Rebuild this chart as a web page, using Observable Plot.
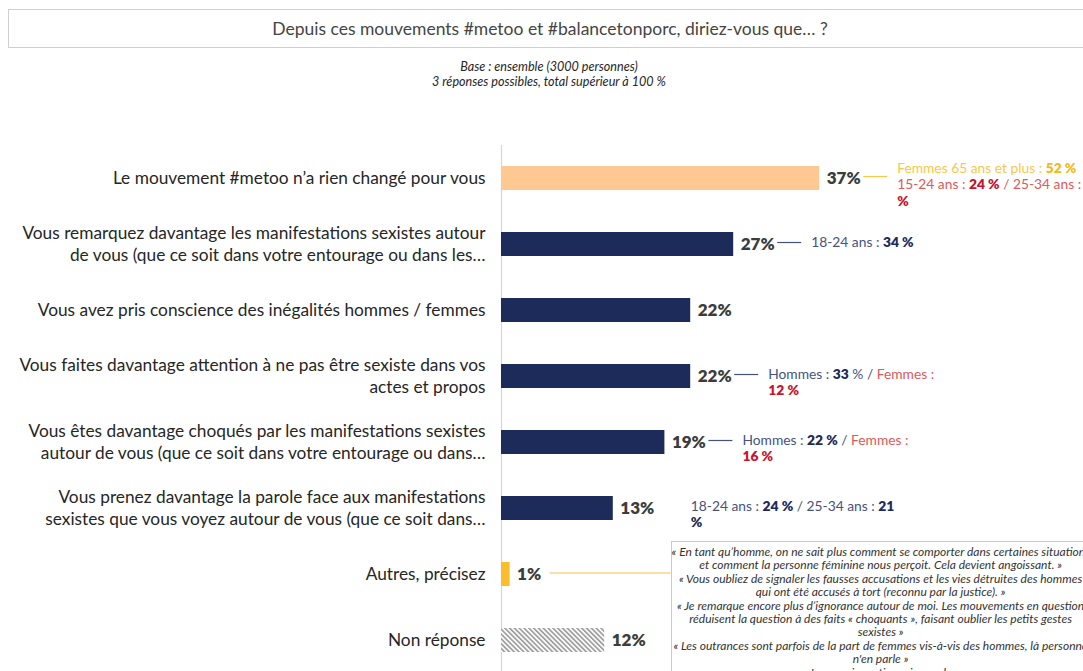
<!DOCTYPE html>
<html>
<head>
<meta charset="utf-8">
<script src="https://cdn.jsdelivr.net/npm/d3@7"></script>
<script src="https://cdn.jsdelivr.net/npm/@observablehq/plot@0.6"></script>
<style>
  html, body { margin: 0; padding: 0; background: #fff; }
  body { width: 1083px; height: 671px; overflow: hidden; position: relative; font-family: Lato, "Open Sans", sans-serif; }
  #title { position: absolute; left: 8px; top: 9px; width: 1084px; height: 39px; box-sizing: border-box;
           border: 1px solid #cfcfcf; display: flex; align-items: center; justify-content: center;
           font-size: 17.5px; color: #454545; white-space: nowrap; }
  #sub { position: absolute; left: 0; top: 60px; width: 1098px; text-align: center; font-style: italic;
         font-size: 12.6px; line-height: 14.5px; color: #262626; }
  #chart { position: absolute; left: 0; top: 110px; }
  #quotes { position: absolute; width: 420px; height: 170px; box-sizing: border-box; border: 1px solid #f7c66c;
            font-style: italic; font-size: 12px; line-height: 13.4px; text-align: center; white-space: nowrap;
            color: #333; padding-top: 3px; background: #fff; }
</style>
</head>
<body>
<div id="title"></div>
<div id="sub"></div>
<div id="chart"></div>
<div id="quotes"></div>
<script>
// ---------- DATA ----------
const title = "Depuis ces mouvements #metoo et #balancetonporc, diriez-vous que… ?";
const subtitle = ["Base : ensemble (3000 personnes)", "3 réponses possibles, total supérieur à 100 %"];

const categories = [
  "Le mouvement #metoo n’a rien changé pour vous",
  "Vous remarquez davantage les manifestations sexistes autour\nde vous (que ce soit dans votre entourage ou dans les…",
  "Vous avez pris conscience des inégalités hommes / femmes",
  "Vous faites davantage attention à ne pas être sexiste dans vos\nactes et propos",
  "Vous êtes davantage choqués par les manifestations sexistes\nautour de vous (que ce soit dans votre entourage ou dans…",
  "Vous prenez davantage la parole face aux manifestations\nsexistes que vous voyez autour de vous (que ce soit dans…",
  "Autres, précisez",
  "Non réponse"
];
const values = [37, 27, 22, 22, 19, 13, 1, 12];

// sub-group notes: [text, colour role, bold?]
const notes = [
  {row: 0, lines: [
    [["Femmes 65 ans et plus : ", "y", 0], ["52 %", "y", 1]],
    [["15-24 ans : ", "r", 0], ["24 %", "r", 1], [" / 25-34 ans : ", "r", 0], ["31", "r", 1]],
    [["%", "r", 1]]]},
  {row: 1, lines: [
    [["18-24 ans : ", "n", 0], ["34 %", "n", 1]]]},
  {row: 3, lines: [
    [["Hommes : ", "n", 0], ["33", "n", 1], [" % / ", "n", 0], ["Femmes :", "r", 0]],
    [["12 %", "r", 1]]]},
  {row: 4, lines: [
    [["Hommes : ", "n", 0], ["22 %", "n", 1], [" / ", "n", 0], ["Femmes :", "r", 0]],
    [["16 %", "r", 1]]]},
  {row: 5, lines: [
    [["18-24 ans : ", "n", 0], ["24 %", "n", 1], [" / 25-34 ans : ", "n", 0], ["21", "n", 1]],
    [["%", "n", 1]]]}
];
const connectorRows = [0, 1, 3, 4];
const quoteRow = 6;
const quotes = [
  "« En tant qu’homme, on ne sait plus comment se comporter dans certaines situations",
  "et comment la personne féminine nous perçoit. Cela devient angoissant. »",
  "« Vous oubliez de signaler les fausses accusations et les vies détruites des hommes",
  "qui ont été accusés à tort (reconnu par la justice). »",
  "« Je remarque encore plus d’ignorance autour de moi. Les mouvements en question",
  "réduisent la question à des faits « choquants », faisant oublier les petits gestes",
  "sexistes »",
  "« Les outrances sont parfois de la part de femmes vis-à-vis des hommes, là personne",
  "n'en parle »",
  "« Je me suis sentie moins seule »"
];

// ---------- STYLE ----------
const NAVY = "#1d2b5b", PEACH = "#fec893", YELLOW = "#fbbd2c";
const textColors = {
  y: ["#fcc747", "#f9b71c"],
  r: ["#e0585c", "#c8142c"],
  n: ["#46527f", "#1d2b5b"]
};
const connectorColor = row => row === 0 ? "#fcc747" : "#46527f";

const rows = categories.map((c, i) => ({cat: c, value: values[i], i}));
const navyRows = rows.filter(d => ![0, 6, 7].includes(d.i));

document.getElementById("title").textContent = title;
document.getElementById("sub").innerHTML = subtitle.join("<br>");

const defsMark = () => {
  const defs = d3.create("svg:defs");
  const p = defs.append("pattern").attr("id", "hatch").attr("patternUnits", "userSpaceOnUse")
    .attr("width", 3.4).attr("height", 3.4).attr("patternTransform", "rotate(-45)");
  p.append("rect").attr("width", 3.4).attr("height", 3.4).attr("fill", "#fafafa");
  p.append("line").attr("x1", 0.8).attr("y1", 0).attr("x2", 0.8).attr("y2", 3.4)
    .attr("stroke", "#707070").attr("stroke-width", 1.1);
  return defs.node();
};

const notesMark = (index, scales) => {
  const g = d3.create("svg:g").attr("font-size", 13.8).attr("font-family", "Lato, sans-serif")
    .attr("text-anchor", "start").style("white-space", "pre");
  const x = scales.x, y = scales.y, bw = y.bandwidth ? y.bandwidth() : 0;
  for (const r of connectorRows) {
    const xv = x(values[r]), yc = y(categories[r]) + bw / 2 - 1.5;
    g.append("line").attr("x1", xv + 44).attr("x2", xv + 68).attr("y1", yc).attr("y2", yc)
      .attr("stroke", connectorColor(r)).attr("stroke-width", 1.2);
  }
  {
    const xv = x(values[quoteRow]), yc = y(categories[quoteRow]) + bw / 2 - 1;
    g.append("line").attr("x1", xv + 40).attr("x2", xv + 161).attr("y1", yc).attr("y2", yc)
      .attr("stroke", "#f9c04a").attr("stroke-width", 1.2);
  }
  for (const n of notes) {
    const x0 = x(values[n.row]) + 78;
    const yc = y(categories[n.row]) + bw / 2;
    const first = n.lines.length === 3 ? -10 : -2;
    n.lines.forEach((line, li) => {
      const t = g.append("text").attr("x", x0).attr("y", yc + first + li * 16.6).attr("dy", "0.35em");
      for (const [txt, role, bold] of line) {
        t.append("tspan").text(txt).attr("fill", textColors[role][bold])
          .attr("font-weight", bold ? 800 : 400);
      }
    });
  }
  return g.node();
};

const chart = Plot.plot({
  width: 1083,
  height: 563,
  marginLeft: 501,
  marginRight: 66,
  marginTop: 35,
  marginBottom: 0,
  x: {domain: [0, 60], axis: null},
  y: {domain: categories, axis: null, paddingInner: 0.636, paddingOuter: 0.318},
  style: {fontFamily: "Lato, sans-serif", overflow: "visible", background: "transparent"},
  marks: [
    defsMark,
    Plot.ruleX([0], {stroke: "#d6d6d6", strokeWidth: 1.2}),
    Plot.barX(rows.filter(d => d.i === 0), {x: "value", y: "cat", fill: PEACH}),
    Plot.barX(navyRows, {x: "value", y: "cat", fill: NAVY}),
    Plot.barX(rows.filter(d => d.i === 6), {x: "value", y: "cat", fill: YELLOW}),
    Plot.barX(rows.filter(d => d.i === 7), {x: "value", y: "cat", fill: "url(#hatch)"}),
    Plot.text(rows, {x: "value", y: "cat", text: d => `${d.value}%`, dx: 7, textAnchor: "start",
      fontSize: 17, fontWeight: 800, fill: "#3a3d3d"}),
    Plot.text(rows, {x: 0, y: "cat", text: "cat", dx: -16, dy: -2, textAnchor: "end", fontSize: 17.3,
      lineHeight: 1.28, fill: "#262626", ariaLabel: "category-labels"}),
    notesMark
  ]
});
document.getElementById("chart").appendChild(chart);

// centre multi-line category labels inside their right-aligned block
chart.querySelectorAll('g[aria-label="category-labels"] text').forEach(t => {
  const spans = t.querySelectorAll("tspan");
  if (spans.length < 2) return;
  const w = Math.max(...Array.from(spans, s => s.getComputedTextLength()));
  t.setAttribute("text-anchor", "middle");
  t.style.textAnchor = "middle";
  spans.forEach(s => s.setAttribute("x", -w / 2));
});

// quotes box anchored to the "Autres" row
const xs = chart.scale("x"), ys = chart.scale("y");
const qb = document.getElementById("quotes");
qb.innerHTML = quotes.join("<br>");
qb.style.left = (xs.apply(values[quoteRow]) + 161) + "px";
qb.style.top = (110 + ys.apply(categories[quoteRow]) + ys.bandwidth / 2 - 33) + "px";
</script>
</body>
</html>
